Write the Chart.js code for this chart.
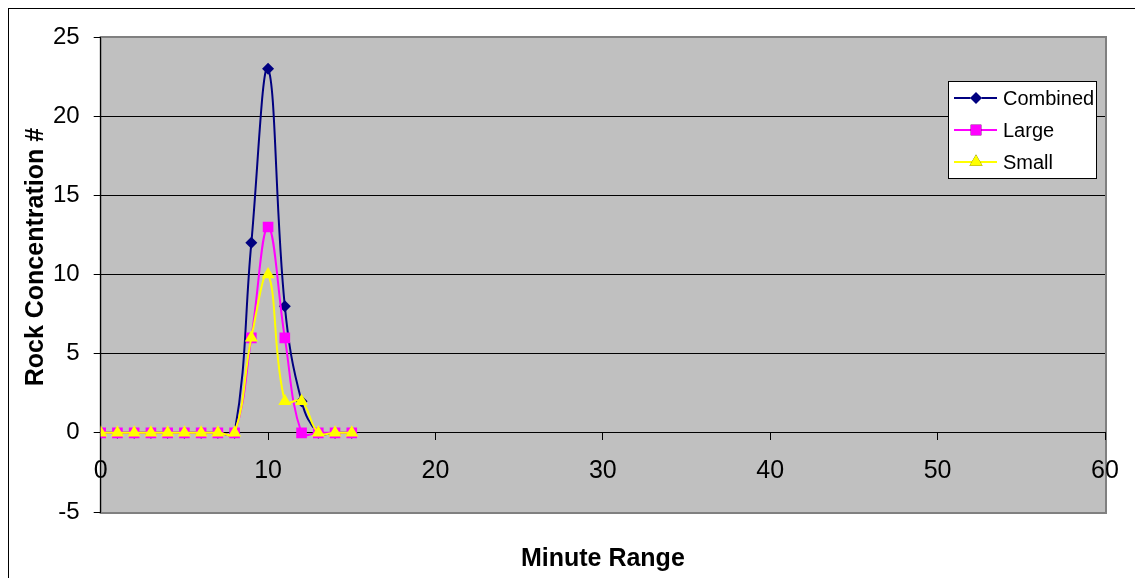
<!DOCTYPE html>
<html>
<head>
<meta charset="utf-8">
<title>Rock Concentration</title>
<script src="https://cdn.jsdelivr.net/npm/chart.js@4.4.1/dist/chart.umd.min.js"></script>
<style>
    html, body { margin: 0; padding: 0; background: #fff; overflow: hidden; }
    #wrap { position: relative; width: 1135px; height: 578px; }
    #frame { position: absolute; left: 8px; top: 8px; width: 1200px; height: 700px; border: 1px solid #000; }
    #rockChart { position: absolute; left: 0; top: 0; }
</style>
</head>
<body>
<div id="wrap">
    <div id="frame"></div>
    <canvas id="rockChart" width="1135" height="578"></canvas>
</div>
<script>
// ===========================
// DATA
// ===========================
const minutes  = [0, 1, 2, 3, 4, 5, 6, 7, 8, 9, 10, 11, 12, 13, 14, 15];
const combined = [0, 0, 0, 0, 0, 0, 0, 0, 0, 12, 23, 8, 2, 0, 0, 0];
const large    = [0, 0, 0, 0, 0, 0, 0, 0, 0, 6, 13, 6, 0, 0, 0, 0];
const small    = [0, 0, 0, 0, 0, 0, 0, 0, 0, 6, 10, 2, 2, 0, 0, 0];

const xTicks = [0, 10, 20, 30, 40, 50, 60];
const yTicks = [-5, 0, 5, 10, 15, 20, 25];

const plainFont = "'Liberation Sans', Arial, sans-serif";

function toPoints(values) {
    return values.map((v, i) => ({ x: minutes[i], y: v }));
}

// Grey plot area with darker edge, like the Excel plot area
const plotAreaPlugin = {
    id: 'plotArea',
    beforeDraw(chart) {
        const { ctx, chartArea: a } = chart;
        ctx.save();
        ctx.fillStyle = '#c0c0c0';
        ctx.fillRect(a.left, a.top, a.right - a.left, a.bottom - a.top);
        ctx.strokeStyle = '#808080';
        ctx.lineWidth = 2;
        ctx.strokeRect(a.left, a.top, a.right - a.left + 1, a.bottom - a.top + 1);
        ctx.restore();
    }
};

// Boxed legend sitting inside the plot area
const boxLegendPlugin = {
    id: 'boxLegend',
    afterDraw(chart) {
        const ctx = chart.ctx;
        const box = { left: 948, top: 81, width: 148, height: 97 };
        ctx.save();
        ctx.fillStyle = '#fff';
        ctx.fillRect(box.left, box.top, box.width, box.height);
        ctx.strokeStyle = '#000';
        ctx.lineWidth = 1;
        ctx.strokeRect(box.left + 0.5, box.top + 0.5, box.width, box.height);

        ctx.font = '20px ' + plainFont;
        ctx.textBaseline = 'middle';
        ctx.textAlign = 'left';
        chart.data.datasets.forEach((ds, i) => {
            const y = box.top + 17 + i * 32;
            ctx.strokeStyle = ds.borderColor;
            ctx.lineWidth = ds.borderWidth;
            ctx.beginPath();
            ctx.moveTo(954, y);
            ctx.lineTo(997, y);
            ctx.stroke();
            Chart.helpers.drawPoint(ctx, {
                pointStyle: ds.pointStyle,
                radius: ds.pointRadius,
                borderWidth: 0,
                rotation: 0
            }, 976, y);
            ctx.fillStyle = ds.pointBackgroundColor;
            ctx.fill();
            ctx.fillStyle = '#000';
            ctx.fillText(ds.label, 1003, y + 1);
        });
        ctx.restore();
    }
};

const ctx = document.getElementById('rockChart').getContext('2d');

new Chart(ctx, {
    type: 'line',
    data: {
        datasets: [{
            label: 'Combined',
            data: toPoints(combined),
            borderColor: '#000080',
            backgroundColor: '#000080',
            pointBackgroundColor: '#000080',
            pointBorderColor: '#000080',
            borderWidth: 2,
            pointStyle: 'rectRot',
            pointRadius: 6,
            pointBorderWidth: 0,
            tension: 0.4,
            order: 3
        }, {
            label: 'Large',
            data: toPoints(large),
            borderColor: '#ff00ff',
            backgroundColor: '#ff00ff',
            pointBackgroundColor: '#ff00ff',
            pointBorderColor: '#ff00ff',
            borderWidth: 2,
            pointStyle: 'rect',
            pointRadius: 7.5,
            pointBorderWidth: 0,
            tension: 0.4,
            order: 2
        }, {
            label: 'Small',
            data: toPoints(small),
            borderColor: '#ffff00',
            backgroundColor: '#ffff00',
            pointBackgroundColor: '#ffff00',
            pointBorderColor: '#ffff00',
            borderWidth: 2,
            pointStyle: 'triangle',
            pointRadius: 7.5,
            pointBorderWidth: 0,
            tension: 0.4,
            order: 1
        }]
    },
    options: {
        responsive: false,
        animation: false,
        layout: {
            padding: { left: 0, right: 30, top: 37, bottom: 0 }
        },
        plugins: {
            legend: { display: false },
            tooltip: { enabled: false },
            title: {
                display: true,
                text: 'Minute Range',
                position: 'bottom',
                fullSize: false,
                color: '#000',
                font: { family: plainFont, size: 25, weight: 'bold', lineHeight: 1.2 },
                padding: { top: 32, bottom: 4 }
            }
        },
        scales: {
            x: {
                type: 'linear',
                position: { y: 0 },
                min: 0,
                max: 60,
                afterBuildTicks: scale => { scale.ticks = xTicks.map(v => ({ value: v })); },
                grid: {
                    drawOnChartArea: false,
                    drawTicks: true,
                    tickLength: 7,
                    tickColor: '#000'
                },
                border: { color: '#000', width: 1 },
                ticks: {
                    color: '#000',
                    padding: 16,
                    maxRotation: 0,
                    font: { family: plainFont, size: 25 }
                }
            },
            y: {
                min: -5,
                max: 25,
                afterBuildTicks: scale => { scale.ticks = yTicks.map(v => ({ value: v })); },
                grid: {
                    color: c => (c.tick && (c.tick.value === 25 || c.tick.value === -5)) ? 'rgba(0,0,0,0)' : '#000',
                    tickColor: '#000',
                    tickLength: 7,
                    lineWidth: 1
                },
                border: { color: '#000', width: 1 },
                ticks: {
                    color: '#000',
                    padding: 14,
                    font: { family: plainFont, size: 24 }
                },
                title: {
                    display: true,
                    // leading spaces nudge the label up the axis, as in the original
                    text: '     Rock Concentration #',
                    color: '#000',
                    font: { family: plainFont, size: 25, weight: 'bold', lineHeight: 1.2 },
                    padding: { top: 21, bottom: -12 }
                }
            }
        }
    },
    plugins: [plotAreaPlugin, boxLegendPlugin]
});
</script>
</body>
</html>
